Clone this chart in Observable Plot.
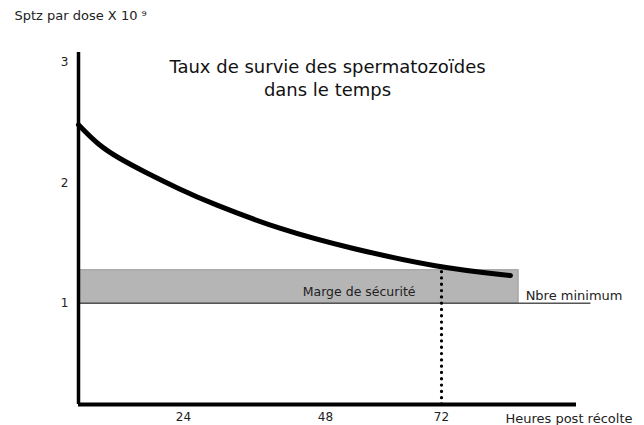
<!DOCTYPE html>
<html>
<head>
<meta charset="utf-8">
<script src="https://cdn.jsdelivr.net/npm/d3@7"></script>
<script src="https://cdn.jsdelivr.net/npm/@observablehq/plot@0.6"></script>
<style>
  html, body { margin: 0; padding: 0; background: #fff; }
  svg { display: block; }
</style>
</head>
<body>
<div id="chart"></div>
<script>
// Data
const hours    = [0, 4.6, 9.1, 15.3, 22.9, 28.6, 40.4, 53.2, 71.2, 86.3];
const survival = [2.48, 2.31, 2.205, 2.085, 1.95, 1.83, 1.61, 1.455, 1.296, 1.23];
const xTicks = [24, 48, 72];
const yTicks = [1, 2, 3];
const minimum = 1;        // Nbre minimum
const safetyTop = 1.274;  // upper edge of safety margin
const bandEnd = 88;       // hours
const minLineEnd = 103;   // hours
const cutoff = 72;        // hours (dotted line)
const xMax = 100;
const yBase = 0.16, yTop = 3.08;

// The hand-drawn time axis is not evenly spaced: piecewise warp of hours
const warpHours = [0, 24, 48, 72, 100];
const warpUnits = [0, 105, 247, 363, 498];
const warp = d3.scaleLinear().domain(warpHours).range(warpUnits);

const curve = hours.map((h, i) => ({h, v: survival[i]}));

const font = "'DejaVu Sans', sans-serif";

const chart = Plot.plot({
  width: 644,
  height: 425,
  marginLeft: 78,
  marginRight: 68,
  marginTop: 52,
  marginBottom: 21,
  style: {fontFamily: font, fontSize: "12px", color: "#222", background: "#fff"},
  x: {type: "linear", transform: warp, domain: [0, warp(xMax)]},
  y: {domain: [yBase, yTop]},
  marks: [
    Plot.rect([{x1: 0, x2: bandEnd, y1: minimum, y2: safetyTop}],
      {x1: "x1", x2: "x2", y1: "y1", y2: "y2", fill: "#b5b5b5", stroke: "#9a9a9a", strokeWidth: 1}),
    Plot.ruleY([minimum], {x1: 0, x2: minLineEnd, stroke: "#555", strokeWidth: 1.6}),
    Plot.ruleX([cutoff], {y1: yBase, y2: safetyTop, stroke: "#000", strokeWidth: 3.2,
      strokeDasharray: "0.1,6.2", strokeLinecap: "round"}),
    Plot.line(curve, {x: "h", y: "v", curve: "basis", stroke: "#000", strokeWidth: 5}),
    Plot.ruleX([0], {y1: yBase, y2: yTop, stroke: "#000", strokeWidth: 3.5}),
    Plot.ruleY([yBase], {x1: 0, x2: xMax, stroke: "#000", strokeWidth: 4}),
    Plot.axisY({ticks: yTicks, tickSize: 0, tickPadding: 10, label: null, tickFormat: d => String(d), fontSize: 12}),
    Plot.axisX({ticks: xTicks.map(warp), tickSize: 0, tickPadding: 8, label: null,
      tickFormat: d => String(Math.round(warp.invert(d))), fontSize: 12}),
    Plot.text(["Taux de survie des spermatozoïdes\ndans le temps"],
      {frameAnchor: "top", dy: 3, fontSize: 18, lineHeight: 1.33, fill: "#111"}),
    Plot.text(["Sptz par dose X 10 ⁹"],
      {frameAnchor: "top-left", textAnchor: "start", dx: -64, dy: -42, fontSize: 13, fill: "#222"}),
    Plot.text(["Marge de sécurité"],
      {x: cutoff, y: minimum, textAnchor: "end", dx: -26, dy: -11, fontSize: 12.5, fill: "#222"}),
    Plot.text(["Nbre minimum"],
      {x: bandEnd, y: minimum, textAnchor: "start", dx: 7, dy: -7, fontSize: 13, fill: "#222"}),
    Plot.text(["Heures post récolte"],
      {x: xMax, y: yBase, textAnchor: "end", dx: 56, dy: 14, fontSize: 13, fill: "#222"})
  ]
});
document.getElementById("chart").appendChild(chart);
</script>
</body>
</html>
